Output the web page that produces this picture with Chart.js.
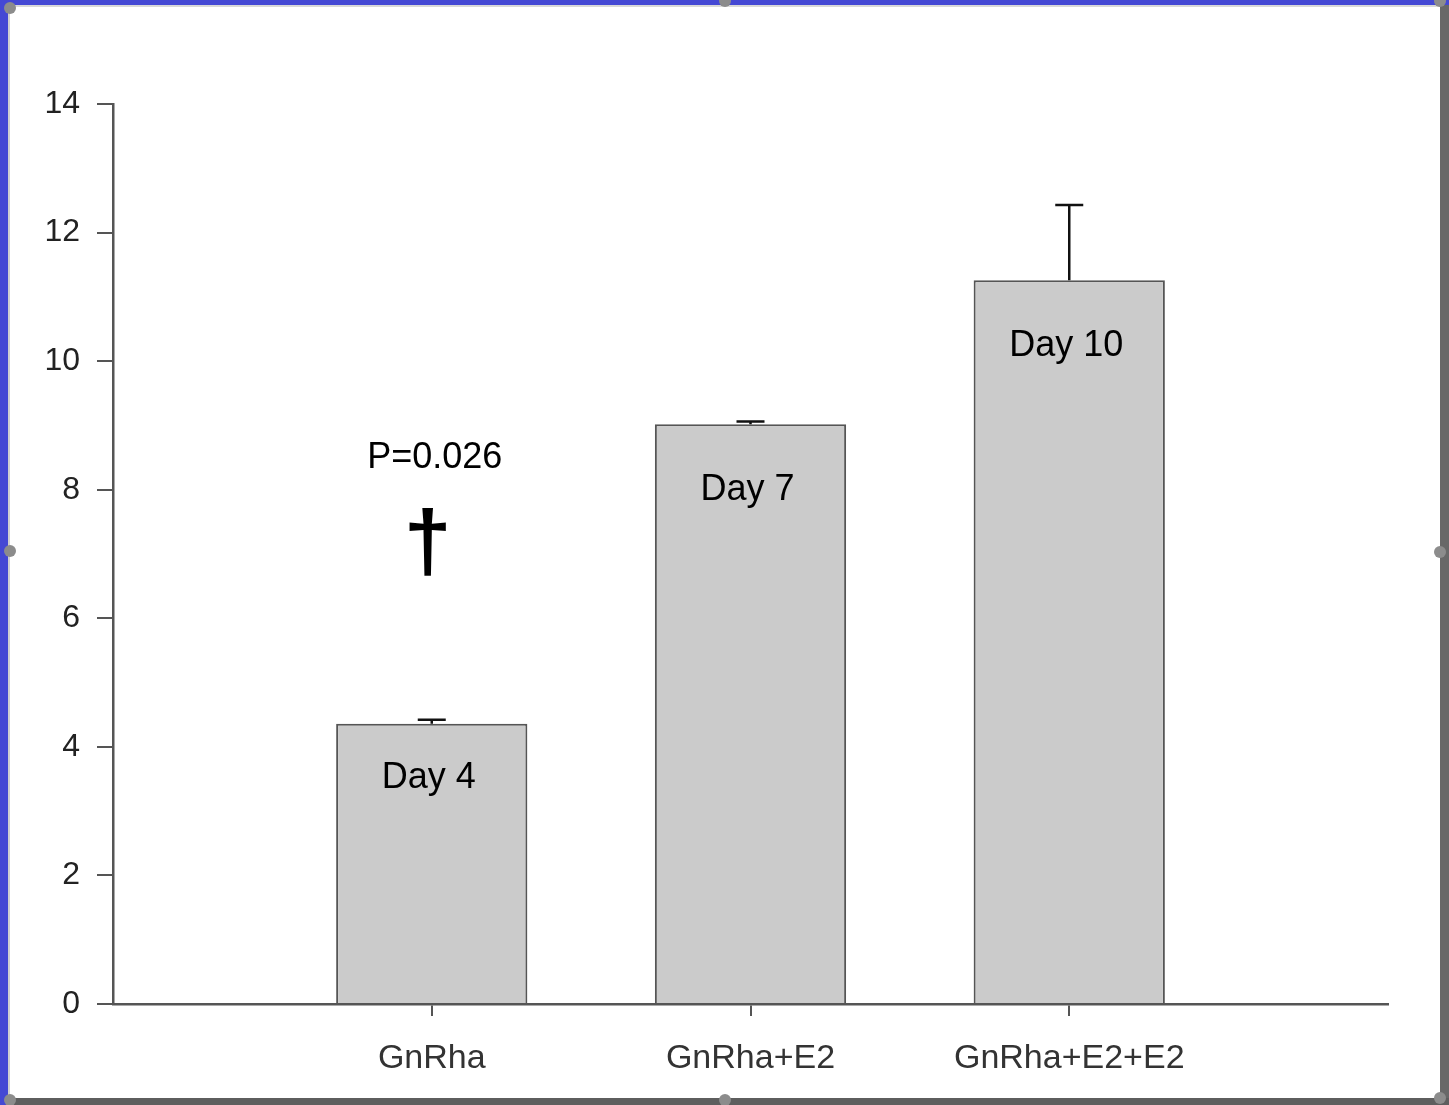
<!DOCTYPE html>
<html>
<head>
<meta charset="utf-8">
<script src="https://cdn.jsdelivr.net/npm/chart.js@4/dist/chart.umd.min.js"></script>
<style>
  html, body { margin: 0; padding: 0; background: #fff; overflow: hidden; }
  #wrap { position: relative; width: 1449px; height: 1105px; }
  #chart { position: absolute; left: 0; top: 0; }
  .edge { position: absolute; pointer-events: none; }
  .dot { position: absolute; width: 12px; height: 12px; border-radius: 50%; background: #8c8c8c; pointer-events: none; }
</style>
</head>
<body>
<div id="wrap">
  <canvas id="chart" width="1449" height="1105"></canvas>
  <div class="edge" style="left:0;top:0;width:1449px;height:5px;background:#4448d4"></div>
  <div class="edge" style="left:0;top:0;width:8px;height:1105px;background:#4448d4"></div>
  <div class="edge" style="left:8px;top:5px;width:1432px;height:2px;background:#d8d8d8"></div>
  <div class="edge" style="left:8px;top:5px;width:2px;height:1093px;background:#d0d0d0"></div>
  <div class="edge" style="left:1440px;top:5px;width:9px;height:1100px;background:#686868"></div>
  <div class="edge" style="left:8px;top:1098px;width:1441px;height:7px;background:#5e5e5e"></div>
  <div class="dot" style="left:4px;top:2px"></div>
  <div class="dot" style="left:719px;top:-5px"></div>
  <div class="dot" style="left:1434px;top:-5px"></div>
  <div class="dot" style="left:4px;top:545px"></div>
  <div class="dot" style="left:1434px;top:546px"></div>
  <div class="dot" style="left:4px;top:1094px"></div>
  <div class="dot" style="left:719px;top:1094px"></div>
  <div class="dot" style="left:1434px;top:1092px"></div>
</div>
<script>
const categories = ['GnRha', 'GnRha+E2', 'GnRha+E2+E2'];
const means = [4.36, 9.02, 11.26];
const upperErr = [4.42, 9.06, 12.43];
const yTicks = [0, 2, 4, 6, 8, 10, 12, 14];

const dayLabels = ['Day 4', 'Day 7', 'Day 10'];
const dayLabelY = [3.51, 7.99, 10.23];
const pLabel = 'P=0.026';
const pLabelY = 8.49;
const daggerY = 7.12;

const font = '"Liberation Sans", Arial, Helvetica, sans-serif';
const axisColor = '#555';

// empty slots at each end so the categories sit at 1/4, 2/4, 3/4 of the axis
const labels = [''].concat(categories, ['']);
const values = [null].concat(means, [null]);

const extrasPlugin = {
    id: 'extras',
    afterDatasetsDraw(chart) {
        const ctx = chart.ctx;
        const x = chart.scales.x;
        const y = chart.scales.y;

        // error bars
        ctx.save();
        ctx.strokeStyle = '#111';
        ctx.lineWidth = 2.5;
        means.forEach((m, i) => {
            const px = x.getPixelForValue(i + 1);
            const top = y.getPixelForValue(upperErr[i]);
            const base = y.getPixelForValue(m);
            ctx.beginPath();
            ctx.moveTo(px, base);
            ctx.lineTo(px, top);
            ctx.moveTo(px - 14, top);
            ctx.lineTo(px + 14, top);
            ctx.stroke();
        });
        ctx.restore();

        // labels in bars
        ctx.save();
        ctx.fillStyle = '#000';
        ctx.textAlign = 'center';
        ctx.textBaseline = 'middle';
        ctx.font = '36px ' + font;
        dayLabels.forEach((t, i) => {
            ctx.fillText(t, x.getPixelForValue(i + 1) - 3, y.getPixelForValue(dayLabelY[i]));
        });
        ctx.fillText(pLabel, x.getPixelForValue(1) + 3, y.getPixelForValue(pLabelY));
        ctx.font = 'bold 86px ' + font;
        ctx.fillText('\u2020', x.getPixelForValue(1) - 4, y.getPixelForValue(daggerY));
        ctx.restore();
    }
};

new Chart(document.getElementById('chart'), {
    type: 'bar',
    data: {
        labels: labels,
        datasets: [{
            data: values,
            backgroundColor: '#cbcbcb',
            borderColor: '#555',
            borderWidth: 2,
            barPercentage: 0.6,
            categoryPercentage: 1
        }]
    },
    options: {
        responsive: false,
        animation: false,
        events: [],
        layout: { padding: { top: 104, right: 61, bottom: 0, left: 0 } },
        plugins: { legend: { display: false }, tooltip: { enabled: false } },
        scales: {
            x: {
                offset: false,
                afterFit: s => { s.height = 101; },
                border: { display: true, color: axisColor, width: 2.5 },
                grid: {
                    offset: false,
                    drawOnChartArea: false,
                    drawTicks: true,
                    tickLength: 12,
                    lineWidth: 2,
                    color: c => (c.index > 0 && c.index < labels.length - 1) ? axisColor : 'rgba(0,0,0,0)'
                },
                ticks: {
                    color: '#333',
                    font: { family: font, size: 34 },
                    padding: 22,
                    maxRotation: 0,
                    autoSkip: false
                }
            },
            y: {
                min: 0,
                max: 14,
                afterFit: s => { s.width = 113; },
                afterBuildTicks: s => { s.ticks = yTicks.map(v => ({ value: v })); },
                border: { display: true, color: axisColor, width: 2.5 },
                grid: {
                    drawOnChartArea: false,
                    drawTicks: true,
                    tickLength: 16,
                    lineWidth: 2,
                    color: axisColor
                },
                ticks: {
                    color: '#222',
                    font: { family: font, size: 32 },
                    padding: 17
                }
            }
        }
    },
    plugins: [extrasPlugin]
});
</script>
</body>
</html>
